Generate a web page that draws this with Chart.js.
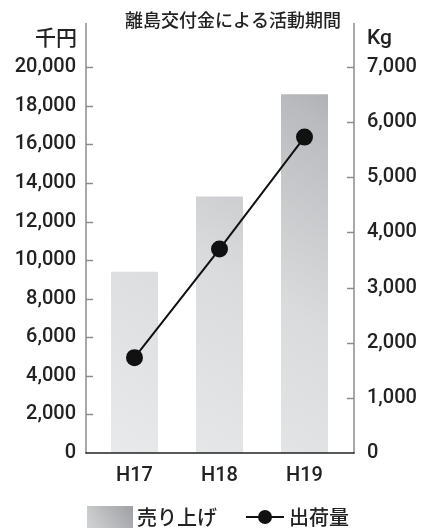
<!DOCTYPE html>
<html>
<head>
<meta charset="utf-8">
<script src="https://cdn.jsdelivr.net/npm/chart.js@4"></script>
<style>
  html, body { margin: 0; padding: 0; background: #fff; }
  #wrap { position: relative; width: 424px; height: 528px; }
  #legend { position: absolute; left: 0; top: 505px; width: 424px; height: 23px;
    font-family: 'Noto Sans CJK JP', sans-serif; font-size: 20px; font-weight: 500; color: #222; }
  .item { position: absolute; top: 0; display: flex; align-items: center; height: 23px; }
  .box { width: 46px; height: 22px; background: linear-gradient(60deg, #d2d3d5, #9fa0a3); margin-right: 4px; }
  .mk { position: relative; width: 38px; height: 22px; margin-right: 5px; }
  .mk .ln { position: absolute; left: 0; right: 0; top: 10px; height: 2px; background: #111; }
  .mk .dt { position: absolute; left: 12px; top: 4px; width: 14px; height: 14px; border-radius: 50%; background: #111; }
</style>
</head>
<body>
<div id="wrap">
  <canvas id="chart" width="424" height="528"></canvas>
  <div id="legend"></div>
</div>
<script>
// 離島交付金による活動期間
const years = ['H17', 'H18', 'H19'];
const salesLabel = '売り上げ';
const sales = [9400, 13300, 18600];      // 千円
const shipLabel = '出荷量';
const shipments = [1730, 3700, 5730];    // Kg
const leftTicks = [0, 2000, 4000, 6000, 8000, 10000, 12000, 14000, 16000, 18000, 20000];
const rightTicks = [0, 1000, 2000, 3000, 4000, 5000, 6000, 7000];

const numFont = { family: "Roboto, 'Liberation Sans', sans-serif", size: 20, weight: '500' };
const jpFont = "'Noto Sans CJK JP', sans-serif";

// the frame sits a few px outside the plot area, like the original
const GAP_L = 6, GAP_R = 7;

// axis frame, short inner tick marks, and texts around the plot
const decor = {
  id: 'decor',
  afterDraw(chart) {
    const { ctx, chartArea: a, scales } = chart;
    const xl = a.left - GAP_L, xr = a.right + GAP_R;
    const yb = a.bottom;
    ctx.save();
    ctx.strokeStyle = '#8c8c8c';
    ctx.lineWidth = 1.5;
    ctx.beginPath(); ctx.moveTo(xl, a.top); ctx.lineTo(xl, yb); ctx.stroke();
    ctx.beginPath(); ctx.moveTo(xr, a.top); ctx.lineTo(xr, yb); ctx.stroke();
    scales.y.ticks.forEach(t => {
      if (t.value === 0) return;
      const y = Math.round(scales.y.getPixelForValue(t.value)) + 0.5;
      ctx.beginPath(); ctx.moveTo(xl, y); ctx.lineTo(xl + 7, y); ctx.stroke();
    });
    scales.y1.ticks.forEach(t => {
      if (t.value === 0) return;
      const y = Math.round(scales.y1.getPixelForValue(t.value)) + 0.5;
      ctx.beginPath(); ctx.moveTo(xr - 7, y); ctx.lineTo(xr, y); ctx.stroke();
    });
    ctx.strokeStyle = '#222';
    ctx.beginPath(); ctx.moveTo(xl - 0.75, yb); ctx.lineTo(xr + 0.75, yb); ctx.stroke();

    ctx.fillStyle = '#222';
    ctx.textBaseline = 'middle';
    ctx.textAlign = 'center';
    ctx.font = '500 18px ' + jpFont;
    ctx.fillText('離島交付金による活動期間', 233, 20);
    ctx.textAlign = 'right';
    ctx.font = '500 21px ' + jpFont;
    ctx.fillText('千円', 77, 37);
    ctx.textAlign = 'left';
    ctx.font = '500 21px ' + numFont.family;
    ctx.fillText('Kg', 367, 39);
    ctx.restore();
  }
};

function barFill(c) {
  const chart = c.chart;
  const a = chart.chartArea;
  if (!a) return '#d0d1d3';
  const g = chart.ctx.createLinearGradient(a.left, a.bottom, a.right, a.top);
  g.addColorStop(0, '#e9eaec');
  g.addColorStop(0.45, '#dadbdd');
  g.addColorStop(0.8, '#babbbe');
  g.addColorStop(1, '#9a9b9f');
  return g;
}

function fixWidth(w) {
  return s => { s.width = w; s.paddingTop = 0; s.paddingBottom = 0; };
}

new Chart(document.getElementById('chart'), {
  data: {
    labels: years,
    datasets: [
      {
        type: 'line',
        label: shipLabel,
        data: shipments,
        yAxisID: 'y1',
        borderColor: '#111',
        borderWidth: 2,
        pointRadius: 7.5,
        pointBackgroundColor: '#111',
        pointBorderColor: '#111',
        order: 0
      },
      {
        type: 'bar',
        label: salesLabel,
        data: sales,
        yAxisID: 'y',
        backgroundColor: barFill,
        categoryPercentage: 1,
        barPercentage: 0.553,
        order: 1
      }
    ]
  },
  options: {
    responsive: false,
    animation: false,
    layout: { padding: { top: 23 } },
    plugins: { legend: { display: false }, tooltip: { enabled: false } },
    scales: {
      x: {
        grid: { display: false },
        border: { display: false },
        ticks: { color: '#222', font: numFont, padding: 3 },
        afterFit(s) { s.height = 75; s.paddingLeft = 0; s.paddingRight = 0; }
      },
      y: {
        position: 'left',
        min: 0, max: 22300,
        grid: { display: false, drawTicks: false },
        border: { display: false },
        ticks: { stepSize: 2000, color: '#222', font: numFont, padding: 16,
          callback: v => v.toLocaleString('en-US') },
        afterBuildTicks(s) { s.ticks = leftTicks.map(v => ({ value: v })); },
        afterFit: fixWidth(92)
      },
      y1: {
        position: 'right',
        min: 0, max: 7800,
        grid: { display: false, drawTicks: false },
        border: { display: false },
        ticks: { stepSize: 1000, color: '#222', font: numFont, padding: 20,
          callback: v => v.toLocaleString('en-US') },
        afterBuildTicks(s) { s.ticks = rightTicks.map(v => ({ value: v })); },
        afterFit: fixWidth(77)
      }
    }
  },
  plugins: [decor]
});

// legend
const legend = document.getElementById('legend');
legend.innerHTML =
  '<div class="item" style="left:87px"><div class="box"></div><span>' + salesLabel + '</span></div>' +
  '<div class="item" style="left:246px"><div class="mk"><div class="ln"></div><div class="dt"></div></div><span>' + shipLabel + '</span></div>';
</script>
</body>
</html>
